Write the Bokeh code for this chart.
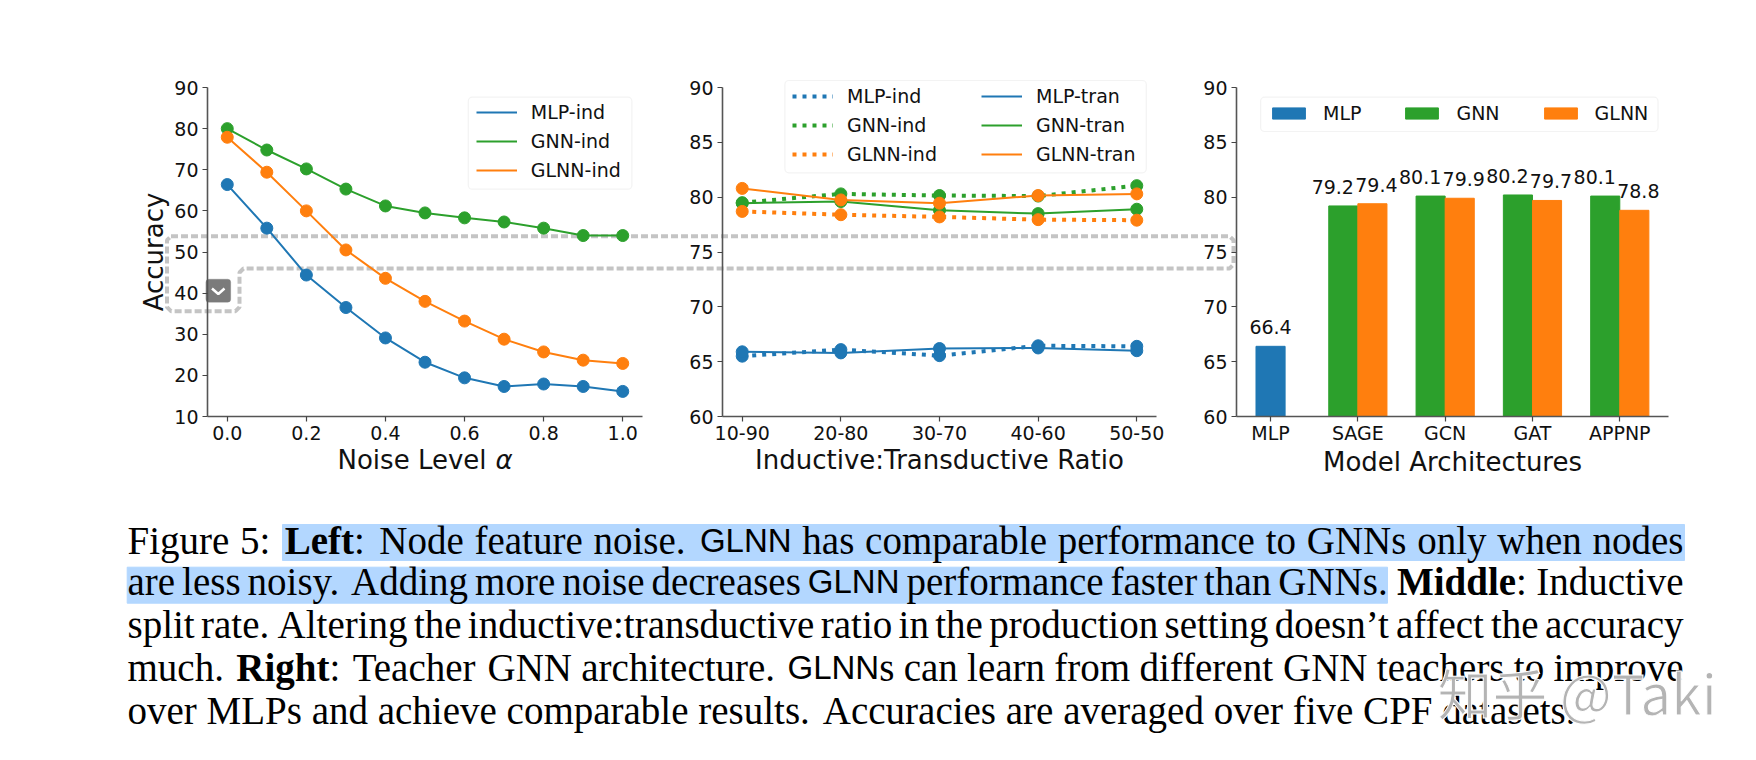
from bokeh.embed import file_html
from bokeh.resources import INLINE
from bokeh.plotting import figure
from bokeh.layouts import column, row
from bokeh.models import Legend, LegendItem, FixedTicker, Range1d, BoxAnnotation, NumeralTickFormatter
from bokeh.core.properties import value

BLUE, GREEN, ORANGE = "#1f77b4", "#2ca02c", "#ff7f0e"
FONT = "DejaVu Sans"
TEXT = "#111111"

noise = [0.0, 0.1, 0.2, 0.3, 0.4, 0.5, 0.6, 0.7, 0.8, 0.9, 1.0]
noise_mlp = [66.4, 55.8, 44.4, 36.5, 29.1, 23.2, 19.4, 17.3, 17.9, 17.3, 16.1]
noise_gnn = [80.0, 74.8, 70.2, 65.3, 61.2, 59.5, 58.3, 57.3, 55.8, 54.0, 54.0]
noise_glnn = [77.9, 69.4, 60.0, 50.5, 43.6, 38.0, 33.2, 28.8, 25.7, 23.7, 22.9]

ratios = ["10-90", "20-80", "30-70", "40-60", "50-50"]
mlp_ind = [65.5, 66.1, 65.55, 66.45, 66.4]
mlp_tran = [65.9, 65.8, 66.2, 66.25, 66.0]
gnn_ind = [79.5, 80.3, 80.15, 80.1, 81.05]
gnn_tran = [79.45, 79.6, 78.8, 78.5, 78.9]
glnn_ind = [78.7, 78.4, 78.2, 77.95, 77.9]
glnn_tran = [80.8, 79.75, 79.45, 80.15, 80.3]

archs = ["MLP", "SAGE", "GCN", "GAT", "APPNP"]
arch_mlp = [66.4]
arch_gnn = [79.2, 80.1, 80.2, 80.1]
arch_glnn = [79.4, 79.9, 79.7, 78.8]

# caption text: (text, style, glued to the previous piece), one list per line
line1 = [("Figure", "n", 0), ("5:", "n", 0), ("Left", "b", 0), (":", "n", 1), ("Node", "n", 0), ("feature", "n", 0),
         ("noise.", "n", 0), ("GLNN", "s", 0), ("has", "n", 0), ("comparable", "n", 0), ("performance", "n", 0),
         ("to", "n", 0), ("GNNs", "n", 0), ("only", "n", 0), ("when", "n", 0), ("nodes", "n", 0)]
line2 = [("are", "n", 0), ("less", "n", 0), ("noisy.", "n", 0), ("Adding", "n", 0), ("more", "n", 0), ("noise", "n", 0),
         ("decreases", "n", 0), ("GLNN", "s", 0), ("performance", "n", 0), ("faster", "n", 0), ("than", "n", 0),
         ("GNNs.", "n", 0), ("Middle", "b", 0), (":", "n", 1), ("Inductive", "n", 0)]
line3 = [("split", "n", 0), ("rate.", "n", 0), ("Altering", "n", 0), ("the", "n", 0), ("inductive:transductive", "n", 0),
         ("ratio", "n", 0), ("in", "n", 0), ("the", "n", 0), ("production", "n", 0), ("setting", "n", 0),
         ("doesn\u2019t", "n", 0), ("affect", "n", 0), ("the", "n", 0), ("accuracy", "n", 0)]
line4 = [("much.", "n", 0), ("Right", "b", 0), (":", "n", 1), ("Teacher", "n", 0), ("GNN", "n", 0), ("architecture.", "n", 0),
         ("GLNN", "s", 0), ("s", "n", 1), ("can", "n", 0), ("learn", "n", 0), ("from", "n", 0), ("different", "n", 0),
         ("GNN", "n", 0), ("teachers", "n", 0), ("to", "n", 0), ("improve", "n", 0)]
line5 = [("over", "n", 0), ("MLPs", "n", 0), ("and", "n", 0), ("achieve", "n", 0), ("comparable", "n", 0), ("results.", "n", 0),
         ("Accuracies", "n", 0), ("are", "n", 0), ("averaged", "n", 0), ("over", "n", 0), ("five", "n", 0), ("CPF", "n", 0),
         ("datasets.", "n", 0)]
caption_lines = [line1, line2, line3, line4, line5]
caption_y = [540, 581, 624, 667, 710]
CAP_LEFT, CAP_RIGHT, CAP_SIZE, GLNN_SIZE = 127, 1683, 39, 33

# advance widths (1/1000 em) of the serif caption face, used to justify the lines as the paper does
SERIF = dict(a=444, b=500, c=444, d=500, e=444, f=333, g=500, h=500, i=278, j=278, k=500, l=278, m=778, n=500, o=500,
             p=500, q=500, r=333, s=389, t=278, u=500, v=500, w=722, x=500, y=500, z=444, A=722, C=667, F=556, G=722,
             I=333, M=889, N=722, L=611, P=556, T=611)
SERIF.update({".": 250, ":": 278, "\u2019": 333, "5": 500})
BOLD = dict(L=667, e=444, f=333, t=333, M=944, i=278, d=556, l=278, R=722, g=500, h=556)


def piece_width(txt, st):
    if st == "s":
        return (778 + 556 + 722 + 722) / 1000 * GLNN_SIZE
    table = BOLD if st == "b" else SERIF
    return sum(table[c] for c in txt) / 1000 * CAP_SIZE


def place(words, justify=True):
    widths = [piece_width(t, s) for t, s, _ in words]
    weights = []
    for i, (t, s, glued) in enumerate(words):
        if i == 0 or glued:
            weights.append(0)
        else:
            weights.append(1.33 if words[i - 1][0][-1] in ".:" else 1.0)
    unit = (CAP_RIGHT - CAP_LEFT - sum(widths)) / sum(weights) if justify else 0.25 * CAP_SIZE
    xs, x = [], CAP_LEFT
    for w, gap in zip(widths, weights):
        x += gap * unit
        xs.append(x)
        x += w
    return xs


outline_x = [170.5, 1229, 1233, 1233, 1229, 243, 239, 239, 235, 170.5, 166.5, 166.5, 170.5]
outline_y = [235.7, 235.7, 239.7, 264, 268, 268, 272, 306.7, 310.7, 310.7, 306.7, 239.7, 235.7]


def make_panel(width, height, left, right, top, bottom, xr, yr, yticks):
    p = figure(width=width, height=height, x_range=Range1d(*xr), y_range=Range1d(*yr),
               toolbar_location=None, output_backend="svg",
               background_fill_color=None, border_fill_color=None,
               min_border_left=left, min_border_right=right, min_border_top=top, min_border_bottom=bottom)
    p.grid.visible = False
    p.outline_line_color = None
    for ax in (p.xaxis[0], p.yaxis[0]):
        ax.axis_line_color = "#555555"
        ax.axis_line_width = 1.6
        ax.major_tick_line_color = "#444444"
        ax.major_tick_line_width = 1.2
        ax.major_tick_out = 5
        ax.major_tick_in = 0
        ax.minor_tick_line_color = None
        ax.major_label_text_font = FONT
        ax.major_label_text_font_size = "19px"
        ax.major_label_text_color = TEXT
        ax.axis_label_text_font = FONT
        ax.axis_label_text_font_size = "26px"
        ax.axis_label_text_font_style = "normal"
        ax.axis_label_text_color = TEXT
    p.yaxis[0].ticker = FixedTicker(ticks=yticks)
    p.yaxis[0].major_label_standoff = 4
    p.xaxis[0].major_label_standoff = 4
    p.xaxis[0].axis_label_standoff = 2
    return p


H = 490
TOP, BOTTOM = 87, H - 416

# panel 1
p1 = make_panel(660, H, 207, 660 - 642, TOP, BOTTOM, (-0.05, 1.05), (10, 90), [10, 20, 30, 40, 50, 60, 70, 80, 90])
p1.xaxis[0].ticker = FixedTicker(ticks=[0.0, 0.2, 0.4, 0.6, 0.8, 1.0])
p1.xaxis[0].formatter = NumeralTickFormatter(format="0.0")
p1.yaxis[0].axis_label = "Accuracy"
p1.yaxis[0].axis_label_standoff = 2
for vals, col in ((noise_mlp, BLUE), (noise_gnn, GREEN), (noise_glnn, ORANGE)):
    p1.line(noise, vals, line_color=col, line_width=2)
    p1.scatter(noise, vals, size=12, color=col)

# panel 2
p2 = make_panel(525, H, 722 - 660, 1185 - 1156, TOP, BOTTOM, (-0.2, 4.2), (60, 90), [60, 65, 70, 75, 80, 85, 90])
p2.xaxis[0].ticker = FixedTicker(ticks=list(range(5)))
p2.xaxis[0].major_label_overrides = {i: s for i, s in enumerate(ratios)}
p2.xaxis[0].axis_label = "Inductive:Transductive Ratio"
idx = list(range(5))
for vals, col, dashed in ((mlp_ind, BLUE, True), (mlp_tran, BLUE, False), (gnn_ind, GREEN, True),
                          (gnn_tran, GREEN, False), (glnn_ind, ORANGE, True), (glnn_tran, ORANGE, False)):
    if dashed:
        p2.line(idx, vals, line_color=col, line_width=4, line_dash="4 6")
    else:
        p2.line(idx, vals, line_color=col, line_width=2)
    p2.scatter(idx, vals, size=12, color=col)

# panel 3
p3 = make_panel(1756 - 1185, H, 1236 - 1185, 1756 - 1668, TOP, BOTTOM, (-0.39, 4.558), (60, 90), [60, 65, 70, 75, 80, 85, 90])
p3.xaxis[0].ticker = FixedTicker(ticks=list(range(5)))
p3.xaxis[0].major_label_overrides = {i: s for i, s in enumerate(archs)}
p3.xaxis[0].axis_label = "Model Architectures"
p3.xaxis[0].major_label_standoff = 0
p3.xaxis[0].axis_label_standoff = 0
BW = 1 / 3
x_gnn = [i - BW / 2 for i in range(1, 5)]
x_glnn = [i + BW / 2 for i in range(1, 5)]
p3.vbar(x=[0], top=arch_mlp, bottom=60, width=BW, color=BLUE)
p3.vbar(x=x_gnn, top=arch_gnn, bottom=60, width=BW, color=GREEN)
p3.vbar(x=x_glnn, top=arch_glnn, bottom=60, width=BW, color=ORANGE)
for xs, vals, dx in (([0], arch_mlp, 0), (x_gnn, arch_gnn, -10.5), (x_glnn, arch_glnn, 4)):
    p3.text(xs, vals, text=[f"{v:.1f}" for v in vals], text_font=value(FONT), text_font_size="19px",
            text_align="center", text_baseline="alphabetic", x_offset=dx, y_offset=-19, text_color=TEXT)

# page-sized layer under the panels: caption, selection outline, legends and the alpha axis title
top = figure(width=1756, height=760, x_range=Range1d(0, 1756), y_range=Range1d(760, 0),
             toolbar_location=None, output_backend="svg", min_border=0,
             x_axis_location=None, y_axis_location=None,
             background_fill_color=None, border_fill_color=None,
             styles={"position": "absolute", "left": "0", "top": "0", "z-index": "1"})
top.grid.visible = False
top.outline_line_color = None

top.quad(left=[282, 126.7], right=[1684, 1387], top=[524, 566.7], bottom=[560, 602.7], color="#b3d7ff")
styles = {"n": ("Liberation Serif", "normal", f"{CAP_SIZE}px"), "b": ("Liberation Serif", "bold", f"{CAP_SIZE}px"),
          "s": ("Liberation Sans", "normal", f"{GLNN_SIZE}px")}
for words, y in zip(caption_lines, caption_y):
    for (txt, st, _), x in zip(words, place(words, justify=words is not line5)):
        f, fs, sz = styles[st]
        top.text([x], [y], text=[txt], text_font=value(f), text_font_style=fs, text_font_size=sz,
                 text_baseline="alphabetic", text_color="#000000")
WM = "\u77e5\u4e4e @Taki"
top.text([1437], [690], text=[WM], text_font=value("Noto Sans CJK SC"), text_font_size="55px",
         text_baseline="alphabetic", text_color="#b4b4b4", text_outline_color="white")

top.text([337], [459], text=["Noise Level"], text_font=value(FONT), text_font_size="26px",
         text_baseline="alphabetic", text_color=TEXT)
top.text([495], [459], text=["\u03b1"], text_font=value(FONT), text_font_size="26px", text_font_style="italic",
         text_baseline="alphabetic", text_color=TEXT)

top.line(outline_x, outline_y, line_color="#c4c4c4", line_width=4, line_dash="7 3")
top.add_layout(BoxAnnotation(left=205.4, right=230.2, top=278.7, bottom=301.7, level="underlay",
                             left_units="canvas", right_units="canvas", top_units="canvas", bottom_units="canvas",
                             fill_color="#7b7b7b", fill_alpha=1, line_color="#7b7b7b", border_radius=3))
top.line([211.5, 217.8, 224], [288, 293.5, 288], line_color="white", line_width=2.5)


def box(left, right, t, b):
    top.add_layout(BoxAnnotation(left=left, right=right, top=t, bottom=b,
                                 left_units="canvas", right_units="canvas", top_units="canvas", bottom_units="canvas",
                                 fill_color="white", fill_alpha=0.8, line_color="#d8d8d8", line_width=1.2,
                                 border_radius=4))


def legend(items, x, y, orientation="vertical", spacing=7):
    top.add_layout(Legend(items=items, location=(x, y), orientation=orientation,
                          label_text_font=FONT, label_text_font_size="19px", label_text_color=TEXT,
                          glyph_width=41, glyph_height=14, label_height=20, label_standoff=14,
                          spacing=spacing, padding=8, margin=0,
                          border_line_color=None, background_fill_alpha=0), "center")


# legend keys: renderers parked outside the page
OFF = [-60, -50]
OFFY = [-60, -60]


def proxy(col, dashed=False):
    if dashed:
        return top.line(OFF, OFFY, line_color=col, line_width=4, line_dash="4 6")
    return top.line(OFF, OFFY, line_color=col, line_width=2)


def proxy_bar(col):
    return top.quad(left=[-60], right=[-50], top=[-60], bottom=[-50], color=col)


box(467.8, 631.4, 96.7, 188.7)
legend([LegendItem(label=n, renderers=[proxy(c)]) for n, c in
        (("MLP-ind", BLUE), ("GNN-ind", GREEN), ("GLNN-ind", ORANGE))], 475.8, 579)

box(784.4, 1145.8, 80, 172.3)
legend([LegendItem(label=n, renderers=[proxy(c, True)]) for n, c in
        (("MLP-ind", BLUE), ("GNN-ind", GREEN), ("GLNN-ind", ORANGE))], 792, 595)
legend([LegendItem(label=n, renderers=[proxy(c)]) for n, c in
        (("MLP-tran", BLUE), ("GNN-tran", GREEN), ("GLNN-tran", ORANGE))], 981, 595)

box(1260.1, 1657.5, 96.7, 131)
legend([LegendItem(label=n, renderers=[proxy_bar(c)]) for n, c in
        (("MLP", BLUE), ("GNN", GREEN), ("GLNN", ORANGE))], 1268, 636, orientation="horizontal", spacing=40)

panels = row(p1, p2, p3, spacing=0, styles={"position": "relative", "z-index": "2"})
layout = column(panels, top, spacing=0, width=1756, height=760)
open("out.html", "w").write(file_html(layout, INLINE))
